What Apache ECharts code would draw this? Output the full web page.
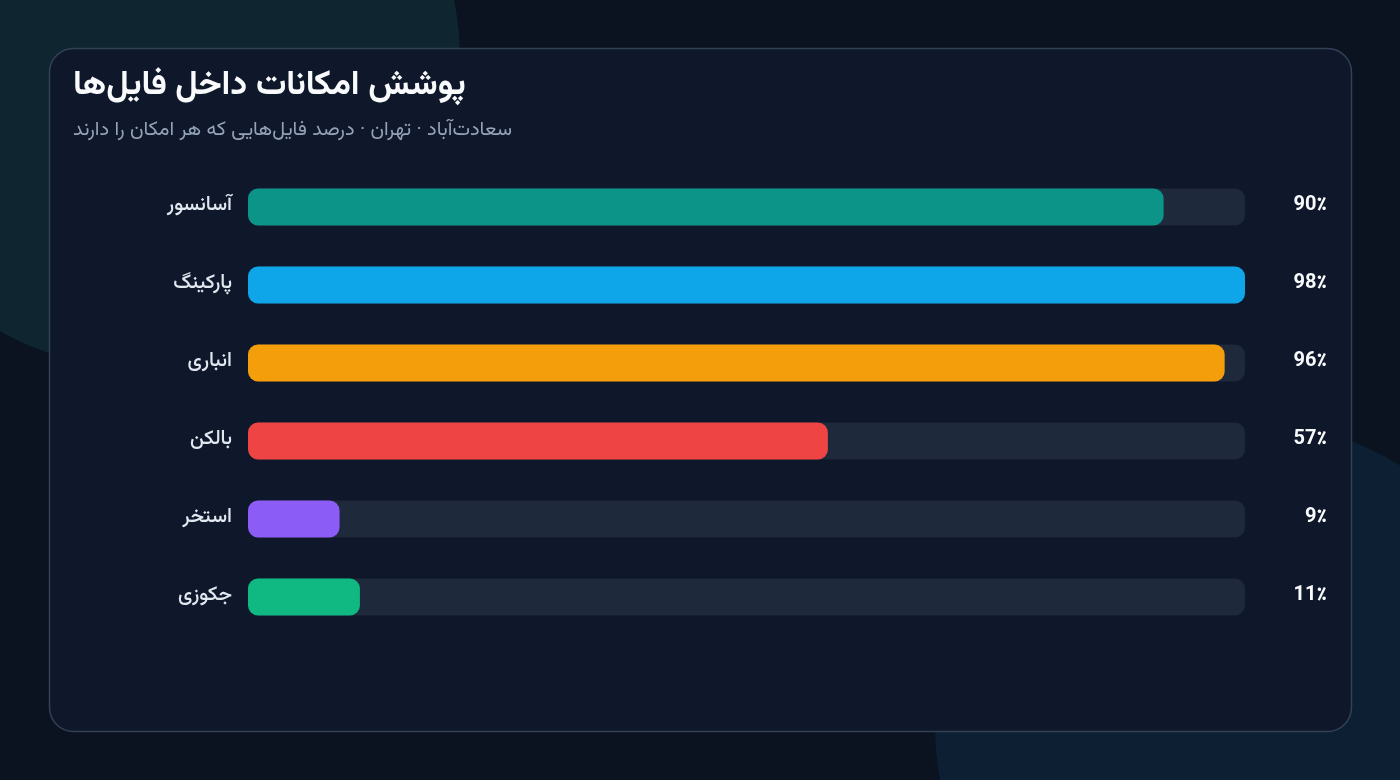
<!DOCTYPE html>
<html>
<head>
<meta charset="utf-8">
<script src="https://cdn.jsdelivr.net/npm/echarts@6/dist/echarts.min.js"></script>
<style>
html,body{margin:0;padding:0;background:#0b1220;}
#c{width:1400px;height:780px;}
</style>
</head>
<body>
<div id="c"></div>
<script>
const categories = ['آسانسور', 'پارکینگ', 'انباری', 'بالکن', 'استخر', 'جکوزی'];
const values = [90, 98, 96, 57, 9, 11];
const colors = ['#0d9488', '#0ea5e9', '#f59e0b', '#ef4444', '#8b5cf6', '#10b981'];
const valueLabels = values.map(v => v + '٪');
const titleText = 'پوشش امکانات داخل فایل‌ها';
const subtitleText = 'سعادت‌آباد · تهران · درصد فایل‌هایی که هر امکان را دارند';

const FONT = "Vazirmatn, Inter, 'Noto Sans', 'DejaVu Sans', sans-serif";
const chart = echarts.init(document.getElementById('c'), null, {renderer: 'canvas'});
chart.setOption({
  backgroundColor: '#0b1220',
  animation: false,
  graphic: [
    {type: 'circle', z: -10, shape: {cx: 150, cy: 60, r: 310}, style: {fill: '#0f2530'}},
    {type: 'circle', z: -10, shape: {cx: 1240, cy: 725, r: 305}, style: {fill: '#0c1f33'}},
    {type: 'rect', z: -5, shape: {x: 49.5, y: 48.5, width: 1302, height: 683, r: 24},
      style: {fill: '#0f172a', stroke: '#334155', lineWidth: 1.5}},
    {type: 'text', z: 10, left: 73, top: 72,
      style: {text: titleText, fill: '#f8fafc', font: 'bold 34px ' + FONT}},
    {type: 'text', z: 10, left: 73, top: 122,
      style: {text: subtitleText, fill: '#94a3b8', font: '20px ' + FONT}}
  ],
  grid: {left: 248, right: 155, top: 168, bottom: 144, containLabel: false},
  xAxis: {type: 'value', min: 0, max: 98, show: false},
  yAxis: [
    {type: 'category', data: categories, inverse: true,
      axisLine: {show: false}, axisTick: {show: false},
      axisLabel: {color: '#e2e8f0', fontSize: 20, fontWeight: 500, margin: 16, fontFamily: FONT, padding: [10, 0, 0, 0]}},
    {type: 'category', data: valueLabels, inverse: true, position: 'right',
      axisLine: {show: false}, axisTick: {show: false},
      axisLabel: {color: '#f8fafc', fontSize: 20, fontWeight: 'bold', margin: 82, align: 'right', fontFamily: FONT, padding: [8, 0, 0, 0]}}
  ],
  series: [{
    type: 'bar',
    yAxisIndex: 0,
    barWidth: 37,
    data: values.map((v, i) => ({value: v, itemStyle: {color: colors[i]}})),
    itemStyle: {borderRadius: 10},
    showBackground: true,
    backgroundStyle: {color: '#1e293b', borderRadius: 10}
  }]
});
</script>
</body>
</html>
